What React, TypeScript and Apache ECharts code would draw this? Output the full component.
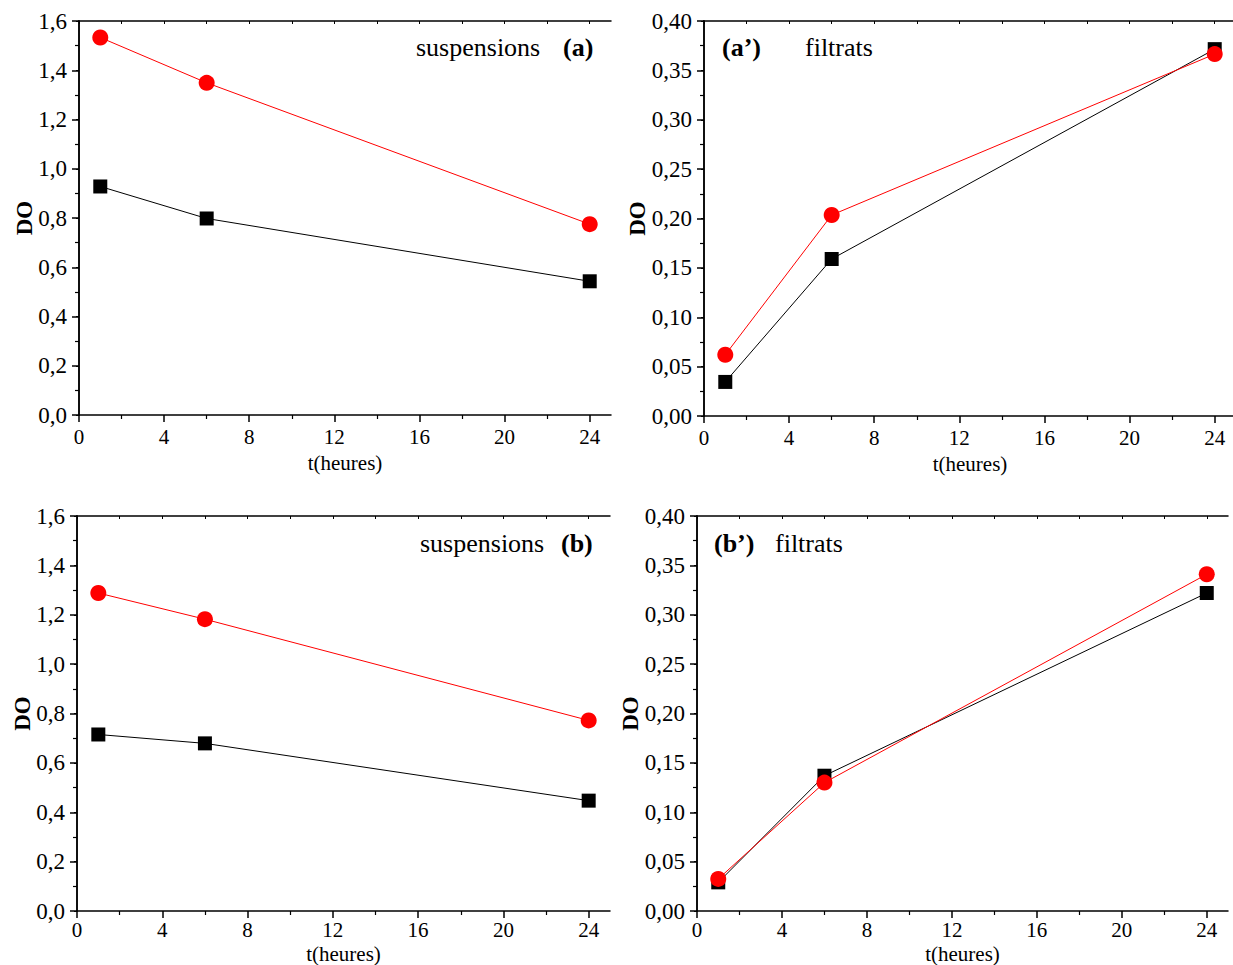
import React, { useEffect, useRef } from "react";
import * as echarts from "echarts";

// ---- data ----
const hours = [1, 6, 24];

const suspA_black = [0.928, 0.798, 0.543];
const suspA_red = [1.533, 1.349, 0.775];

const filtA_black = [0.0345, 0.159, 0.3715];
const filtA_red = [0.062, 0.2035, 0.3665];

const suspB_black = [0.715, 0.679, 0.447];
const suspB_red = [1.288, 1.182, 0.772];

const filtB_black = [0.029, 0.137, 0.322];
const filtB_red = [0.0325, 0.130, 0.341];

const xMajor = [0, 4, 8, 12, 16, 20, 24];
const xMinor = [2, 6, 10, 14, 18, 22];
const xAll = [0, 2, 4, 6, 8, 10, 12, 14, 16, 18, 20, 22, 24];

const FONT = "Liberation Serif";

type Panel = {
  left: number; top: number; width: number; height: number;
  ymax: number; yint: number; dec: number;
  xNameGap: number; xLabelMargin: number; yNameGap: number;
  black: number[]; red: number[];
};

const panels: Panel[] = [
  { left: 79, top: 21, width: 532, height: 394, ymax: 1.6, yint: 0.2, dec: 1, xNameGap: 37, xLabelMargin: 11, yNameGap: 43, black: suspA_black, red: suspA_red },
  { left: 704, top: 21, width: 532, height: 395, ymax: 0.4, yint: 0.05, dec: 2, xNameGap: 37, xLabelMargin: 11, yNameGap: 55, black: filtA_black, red: filtA_red },
  { left: 77, top: 516, width: 533, height: 395, ymax: 1.6, yint: 0.2, dec: 1, xNameGap: 32, xLabelMargin: 8, yNameGap: 43, black: suspB_black, red: suspB_red },
  { left: 697, top: 516, width: 531, height: 395, ymax: 0.4, yint: 0.05, dec: 2, xNameGap: 32, xLabelMargin: 8, yNameGap: 55, black: filtB_black, red: filtB_red },
];

const labels = [
  { x: 416, y: 34, text: "suspensions", bold: false },
  { x: 563, y: 34, text: "(a)", bold: true },
  { x: 722, y: 34, text: "(a\u2019)", bold: true },
  { x: 805, y: 34, text: "filtrats", bold: false },
  { x: 420, y: 530, text: "suspensions", bold: false },
  { x: 561, y: 530, text: "(b)", bold: true },
  { x: 714, y: 530, text: "(b\u2019)", bold: true },
  { x: 775, y: 530, text: "filtrats", bold: false },
];

function buildOption() {
  const grid: any[] = [];
  const xAxis: any[] = [];
  const yAxis: any[] = [];
  const series: any[] = [];
  const axisLine = { show: true, lineStyle: { color: "#000", width: 1.5 } };

  panels.forEach((p, i) => {
    grid.push({
      left: p.left, top: p.top, width: p.width, height: p.height,
      containLabel: false, outerBoundsMode: "none",
    });
    xAxis.push({
      gridIndex: i, type: "value", min: 0, max: 25, position: "bottom",
      axisLine, splitLine: { show: false },
      axisTick: { show: true, customValues: xMajor, length: 7, inside: false, lineStyle: { color: "#000", width: 1.5 } },
      axisLabel: { show: true, customValues: xMajor, margin: p.xLabelMargin, color: "#000", fontFamily: FONT, fontSize: 21 },
      name: "t(heures)", nameLocation: "middle", nameGap: p.xNameGap, nameMoveOverlap: false,
      nameTextStyle: { color: "#000", fontFamily: FONT, fontSize: 21 },
    });
    xAxis.push({
      gridIndex: i, type: "value", min: 0, max: 25, position: "bottom",
      axisLine: { show: false }, splitLine: { show: false },
      axisTick: { show: true, customValues: xMinor, length: 4, inside: false, lineStyle: { color: "#000", width: 1.2 } },
      axisLabel: { show: false },
    });
    xAxis.push({
      gridIndex: i, type: "value", min: 0, max: 25, position: "top",
      axisLine, splitLine: { show: false },
      axisTick: { show: true, customValues: xAll, length: 3, inside: true, lineStyle: { color: "#000", width: 1 } },
      axisLabel: { show: false },
    });
    yAxis.push({
      gridIndex: i, type: "value", min: 0, max: p.ymax, interval: p.yint, position: "left",
      axisLine, splitLine: { show: false },
      axisTick: { show: true, length: 7, inside: false, lineStyle: { color: "#000", width: 1.5 } },
      minorTick: { show: true, splitNumber: 2, length: 4, lineStyle: { color: "#000", width: 1.2 } },
      minorSplitLine: { show: false },
      axisLabel: {
        show: true, margin: 12, color: "#000", fontFamily: FONT, fontSize: 23,
        formatter: (v: number) => v.toFixed(p.dec).replace(".", ","),
      },
      name: "DO", nameLocation: "middle", nameGap: p.yNameGap, nameMoveOverlap: false,
      nameTextStyle: { color: "#000", fontFamily: FONT, fontSize: 23, fontWeight: "bold" },
    });
    yAxis.push({
      gridIndex: i, type: "value", min: 0, max: p.ymax, interval: p.yint, position: "right",
      axisLine, splitLine: { show: false },
      axisTick: { show: true, length: 3, inside: true, lineStyle: { color: "#000", width: 1 } },
      minorTick: { show: true, splitNumber: 2, length: 2, lineStyle: { color: "#000", width: 1 } },
      axisLabel: { show: false },
    });

    series.push({
      type: "line", xAxisIndex: i * 3, yAxisIndex: i * 2,
      data: hours.map((h, k) => [h, p.black[k]]),
      symbol: "rect", symbolSize: 14,
      itemStyle: { color: "#000" }, lineStyle: { color: "#000", width: 1 },
      z: 3,
    });
    series.push({
      type: "line", xAxisIndex: i * 3, yAxisIndex: i * 2,
      data: hours.map((h, k) => [h, p.red[k]]),
      symbol: "circle", symbolSize: 16,
      itemStyle: { color: "#ff0000" }, lineStyle: { color: "#ff0000", width: 1 },
      z: 4,
    });
  });

  const title = labels.map((l) => ({
    left: l.x, top: l.y, padding: 0, text: l.text,
    textStyle: { fontFamily: FONT, fontSize: 26, color: "#000", fontWeight: l.bold ? "bold" : "normal" },
  }));

  return {
    animation: false,
    backgroundColor: "#fff",
    textStyle: { fontFamily: FONT },
    title,
    grid, xAxis, yAxis, series,
  };
}

export default function App() {
  const ref = useRef<HTMLDivElement>(null);
  useEffect(() => {
    if (!ref.current) return;
    const chart = echarts.init(ref.current, undefined, { renderer: "svg" });
    chart.setOption(buildOption() as any);
    return () => chart.dispose();
  }, []);
  return (
    <div
      ref={ref}
      style={{ position: "absolute", left: 0, top: 0, width: 1233, height: 965 }}
    />
  );
}
